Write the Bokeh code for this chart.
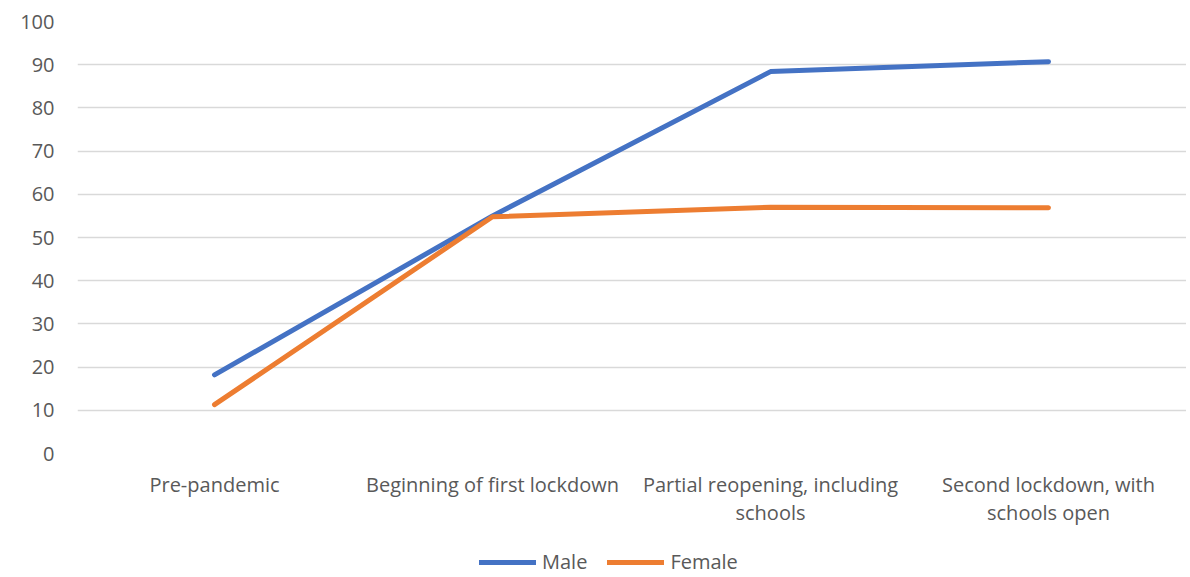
from bokeh.plotting import figure
from bokeh.models import Legend, LegendItem, FixedTicker, Range1d
from bokeh.layouts import column
from bokeh.embed import file_html
from bokeh.resources import INLINE

categories = ["Pre-pandemic", "Beginning of first lockdown",
              "Partial reopening, including\nschools", "Second lockdown, with\nschools open"]
male = [18.2, 55.0, 88.4, 90.7]
female = [11.3, 54.8, 57.0, 56.9]
y_ticks = [0, 10, 20, 30, 40, 50, 60, 70, 80, 90, 100]

FONT = "Open Sans"
GREY = "#595959"
BLUE = "#4472C4"
ORANGE = "#ED7D31"

xs = list(range(len(categories)))

p = figure(width=1186, height=528, output_backend="svg", toolbar_location=None,
           x_range=Range1d(-0.4928, 3.4964), y_range=Range1d(0, 100),
           min_border_left=77, min_border_right=0, min_border_top=21, min_border_bottom=75)
p.outline_line_color = None
p.background_fill_color = "white"
p.border_fill_color = "white"

p.line(xs, male, line_color=BLUE, line_width=5, line_cap="round", line_join="round")
p.line(xs, female, line_color=ORANGE, line_width=5, line_cap="round", line_join="round")

p.xgrid.visible = False
p.ygrid.grid_line_color = "#D9D9D9"
p.ygrid.grid_line_width = 1.5
p.yaxis.ticker = FixedTicker(ticks=y_ticks)
p.xaxis.ticker = FixedTicker(ticks=xs)
p.xaxis.major_label_overrides = {i: c for i, c in enumerate(categories)}

for ax in (p.xaxis[0], p.yaxis[0]):
    ax.axis_line_color = None
    ax.major_tick_line_color = None
    ax.minor_tick_line_color = None
    ax.major_label_text_font = FONT
    ax.major_label_text_font_size = "20px"
    ax.major_label_text_color = GREY
p.yaxis.major_label_standoff = 17
p.xaxis.major_label_standoff = 11
p.xaxis.major_label_text_line_height = 1.05

# legend strip below the chart (its series are outside the strip's visible range)
lg = figure(width=1186, height=47, output_backend="svg", toolbar_location=None,
            x_range=Range1d(0, 1), y_range=Range1d(0, 1),
            min_border_left=0, min_border_right=0, min_border_top=0, min_border_bottom=0)
lg.outline_line_color = None
lg.axis.visible = False
lg.grid.visible = False
m_r = lg.line(xs, male, line_color=BLUE, line_width=5, line_cap="round")
f_r = lg.line(xs, female, line_color=ORANGE, line_width=5, line_cap="round")
legend = Legend(items=[LegendItem(label="Male", renderers=[m_r]),
                       LegendItem(label="Female", renderers=[f_r])],
                orientation="horizontal", location=(402, 0),
                label_text_font=FONT, label_text_font_size="20px", label_text_color=GREY,
                glyph_width=57, glyph_height=20, label_standoff=6, spacing=20,
                border_line_color=None, background_fill_alpha=0, padding=0, margin=0)
lg.add_layout(legend, "center")

open("out.html", "w").write(file_html(column(p, lg, spacing=0), INLINE))
